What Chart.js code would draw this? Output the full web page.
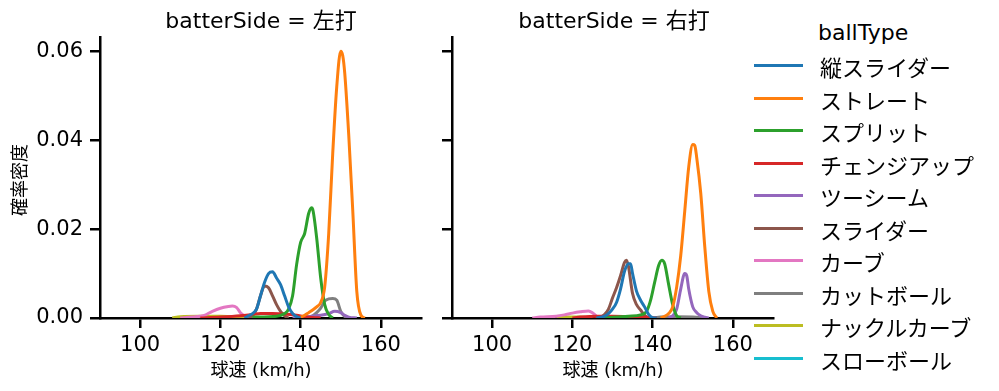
<!DOCTYPE html>
<html>
<head>
<meta charset="utf-8">
<script src="https://cdn.jsdelivr.net/npm/chart.js@4"></script>
<style>
  body { margin: 0; background: #fff; font-family: "DejaVu Sans", "Noto Sans CJK JP", sans-serif; }
  #wrap { position: relative; width: 999px; height: 391px; overflow: hidden; }
  canvas { position: absolute; top: 0; }
  .txt { position: absolute; white-space: nowrap; color: #000; line-height: 1; }
  .legend-row { position: absolute; left: 754px; height: 22px; width: 240px; }
  .legend-row span.sw { position: absolute; left: 0; top: 9px; width: 49px; height: 3px; }
  .legend-row span.lb { position: absolute; left: 66px; top: 0; font-size: 22px; line-height: 22px; white-space: nowrap;
                        font-family: "Noto Sans CJK JP", sans-serif; }
</style>
</head>
<body>
<div id="wrap">
  <canvas id="left" width="430" height="391" style="left:0;width:430px;height:391px"></canvas>
  <canvas id="right" width="352" height="391" style="left:430px;width:352px;height:391px"></canvas>
  <div class="txt" style="left:261px;top:10px;font-size:22px;transform:translateX(-50%)">batterSide = 左打</div>
  <div class="txt" style="left:614px;top:10px;font-size:22px;transform:translateX(-50%)">batterSide = 右打</div>
  <div class="txt" style="left:261px;top:361px;font-size:18px;transform:translateX(-50%)">球速 (km/h)</div>
  <div class="txt" style="left:613px;top:361px;font-size:18px;transform:translateX(-50%)">球速 (km/h)</div>
  <div class="txt" style="left:18px;top:180px;font-size:18px;font-family:'Noto Sans CJK JP';transform:translate(-50%,-50%) rotate(-90deg)">確率密度</div>
  <div class="txt" style="left:818px;top:22px;font-size:22px">ballType</div>
  <div id="legend"></div>
</div>
<script>
// ball types and colours
const ballTypes = ['縦スライダー', 'ストレート', 'スプリット', 'チェンジアップ', 'ツーシーム',
    'スライダー', 'カーブ', 'カットボール', 'ナックルカーブ', 'スローボール'];
const colors = ['#1f77b4', '#ff7f0e', '#2ca02c', '#d62728', '#9467bd',
    '#8c564b', '#e377c2', '#7f7f7f', '#bcbd22', '#17becf'];

const xTicks = [100, 120, 140, 160];
const yTicks = [0, 0.02, 0.04, 0.06];

// 左打 : [speed, density]
const leftVSlider = [[126,0],[127,0.0005],[128,0.001],[129,0.002],[130,0.005],[131,0.008],[132,0.0100],[133,0.0104],[134,0.009],[135,0.0075],[136,0.005],[137,0.0025],[138,0.001],[139,0.0003],[140,0]];
const leftStraight = [[140,0.0002],[141,0.0006],[142,0.0012],[143,0.0018],[144,0.0025],[145,0.0035],[146,0.007],[147,0.019],[148,0.037],[149,0.052],[150,0.060],[150.5,0.059],[151,0.055],[152,0.041],[153,0.024],[154,0.006],[155,0.0007],[156,0]];
const leftSplit = [[128,0.0002],[134,0.0004],[136,0.001],[137,0.002],[138,0.005],[139,0.012],[140,0.017],[141,0.019],[142,0.0235],[142.7,0.0248],[143,0.0245],[144,0.018],[145,0.009],[146,0.003],[147,0.0008],[148,0]];
const leftChange = [[115,0],[120,0.0002],[125,0.0005],[128,0.0008],[130,0.001],[133,0.001],[136,0.0009],[139,0.0006],[141,0.0003],[143,0.0001],[145,0]];
const leftTwoSeam = [[138,0],[140,0.0002],[143,0.0004],[145,0.0006],[147,0.001],[148.5,0.0015],[150,0.0012],[151,0.0006],[152,0.0002],[154,0]];
const leftSlider = [[127,0],[128,0.0005],[129,0.002],[130,0.005],[131,0.0072],[132,0.0068],[133,0.005],[134,0.003],[135,0.0015],[136,0.0005],[137,0]];
const leftCurve = [[110,0],[113,0.0002],[116,0.0006],[118,0.0015],[120,0.0022],[122,0.0026],[123,0.0027],[124,0.0024],[125,0.0012],[126,0.0005],[127,0.0002],[128,0]];
const leftCutter = [[140,0],[142,0.0002],[143,0.0005],[144,0.0012],[145,0.0022],[146,0.0038],[147,0.0043],[148,0.0044],[149,0.0040],[150,0.0015],[151,0.0003],[152,0]];
const leftKnuckleCurve = [[108,0],[110,0.0003],[115,0.0004],[120,0.0004],[125,0.0002],[128,0]];
const leftSlow = [];

// 右打 : [speed, density]
const rightVSlider = [[126,0],[128,0.0004],[129,0.001],[130,0.002],[131,0.0035],[132,0.0065],[133,0.0105],[134,0.0122],[134.5,0.0122],[135,0.010],[136,0.006],[137,0.004],[138,0.0025],[139,0.0008],[140,0.0001],[141,0]];
const rightStraight = [[142,0],[143,0.0004],[144,0.001],[145,0.0025],[146,0.007],[147,0.014],[148,0.024],[149,0.034],[150,0.039],[150.5,0.0388],[151,0.036],[152,0.028],[153,0.016],[154,0.006],[155,0.0015],[156,0]];
const rightSplit = [[128,0],[131,0.0002],[134,0.0004],[137,0.0007],[138.5,0.0015],[139.5,0.004],[140.5,0.008],[141.5,0.0118],[142.3,0.013],[143,0.0122],[144,0.0075],[145,0.003],[146,0.0005],[147,0]];
const rightChange = [[120,0],[122,0.0002],[126,0.0004],[130,0.0004],[134,0.0003],[138,0.0002],[141,0]];
const rightTwoSeam = [[144,0],[145,0.0005],[146,0.002],[147,0.0065],[148,0.010],[148.5,0.0095],[149,0.0065],[150,0.0025],[151,0.0012],[152,0.0005],[153,0.0002],[154,0]];
const rightSlider = [[126,0],[127,0.0002],[128,0.0008],[129,0.002],[130,0.0045],[131,0.0068],[132,0.0095],[133,0.0125],[133.5,0.013],[134,0.0115],[135,0.0055],[136,0.003],[137,0.0018],[138,0.0006],[139,0]];
const rightCurve = [[110,0],[112,0.0002],[116,0.0004],[118,0.0007],[120,0.0011],[122,0.0014],[124,0.0016],[125,0.0012],[126,0.0004],[127,0.0001],[128,0]];
const rightCutter = [[140,0],[142,0.0002],[146,0.0003],[150,0.0002],[153,0]];
const rightKnuckleCurve = [[116,0],[119,0.0002],[122,0.0002],[125,0]];
const rightSlow = [];

const leftSeries = [leftVSlider, leftStraight, leftSplit, leftChange, leftTwoSeam,
    leftSlider, leftCurve, leftCutter, leftKnuckleCurve, leftSlow];
const rightSeries = [rightVSlider, rightStraight, rightSplit, rightChange, rightTwoSeam,
    rightSlider, rightCurve, rightCutter, rightKnuckleCurve, rightSlow];

// legend
const legend = document.getElementById('legend');
ballTypes.forEach((name, i) => {
    const row = document.createElement('div');
    row.className = 'legend-row';
    row.style.top = (55 + i * 32.5) + 'px';
    row.innerHTML = '<span class="sw" style="background:' + colors[i] + '"></span><span class="lb">' + name + '</span>';
    legend.appendChild(row);
});

function makeChart(id, series, showYLabels, yWidth) {
    const datasets = series.map((pts, i) => ({
        label: ballTypes[i],
        data: pts.map(p => ({ x: p[0], y: p[1] })),
        borderColor: colors[i],
        borderWidth: 3,
        pointRadius: 0,
        fill: false,
        cubicInterpolationMode: 'monotone'
    }));
    const axisGrid = {
        display: true,
        drawOnChartArea: false,
        drawTicks: true,
        tickLength: 10,
        color: '#000',
        lineWidth: 2.5
    };
    const tickFont = { family: 'DejaVu Sans', size: 21 };
    new Chart(document.getElementById(id).getContext('2d'), {
        type: 'line',
        data: { datasets: datasets },
        options: {
            responsive: false,
            animation: false,
            layout: { padding: { top: 37, right: 9, left: 0, bottom: 0 } },
            plugins: { legend: { display: false }, tooltip: { enabled: false } },
            scales: {
                x: {
                    type: 'linear',
                    min: 90,
                    max: 170,
                    grid: axisGrid,
                    border: { display: true, color: '#000', width: 2.5 },
                    afterBuildTicks: s => { s.ticks = xTicks.map(v => ({ value: v })); },
                    afterFit: s => { s.height = 73; },
                    ticks: {
                        color: '#000',
                        padding: 5,
                        maxRotation: 0,
                        font: tickFont,
                        callback: v => String(v)
                    }
                },
                y: {
                    min: 0,
                    max: 0.0632,
                    grid: axisGrid,
                    border: { display: true, color: '#000', width: 2.5 },
                    afterBuildTicks: s => { s.ticks = yTicks.map(v => ({ value: v })); },
                    afterFit: s => { s.width = yWidth; },
                    ticks: {
                        color: '#000',
                        padding: 7,
                        font: tickFont,
                        callback: v => showYLabels ? v.toFixed(2) : ''
                    }
                }
            }
        }
    });
}

makeChart('left', leftSeries, true, 100);
makeChart('right', rightSeries, false, 22);
</script>
</body>
</html>
